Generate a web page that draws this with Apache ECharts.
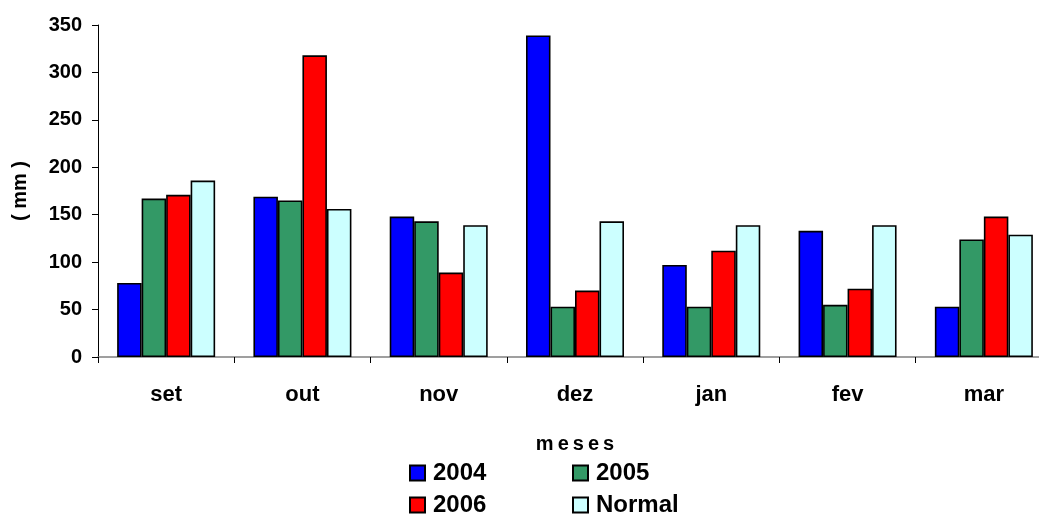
<!DOCTYPE html>
<html>
<head>
<meta charset="utf-8">
<script src="https://cdn.jsdelivr.net/npm/echarts@6/dist/echarts.min.js"></script>
<style>html,body{margin:0;padding:0;background:#fff}#c{width:1039px;height:514px}</style>
</head>
<body>
<div id="c"></div>
<script>
const categories = ['set', 'out', 'nov', 'dez', 'jan', 'fev', 'mar'];
const s2004 = [78, 169, 148, 339, 97, 133, 53];
const s2005 = [167, 165, 143, 53, 53, 55, 124];
const s2006 = [171, 318, 89, 70, 112, 72, 148];
const sNormal = [186, 156, 139, 143, 139, 139, 129];
const yTicks = { min: 0, max: 350, interval: 50 };

const chart = echarts.init(document.getElementById('c'));
const font = 'Arial, "Liberation Sans", sans-serif';
function bar(name, data, color) {
  return {
    name: name, type: 'bar', data: data,
    barWidth: 24.5, barGap: '0%',
    itemStyle: { color: color, borderColor: '#000', borderWidth: 1.6 },
    emphasis: { disabled: true }
  };
}
const legendText = { fontFamily: font, fontWeight: 'bold', fontSize: 24, color: '#000', padding: [0, 0, 0, 3] };
function leg(name, left, top) {
  return { data: [name], left: left, top: top, orient: 'horizontal', icon: 'rect',
    itemWidth: 15, itemHeight: 15, itemGap: 0, textStyle: legendText, selectedMode: false, padding: 0 };
}
chart.setOption({
  animation: false,
  backgroundColor: '#fff',
  grid: { left: 98, width: 954, top: 25, bottom: 157, containLabel: false, outerBoundsMode: 'none' },
  legend: [
    leg('2004', 409, 461),
    leg('2005', 572, 461),
    leg('2006', 409, 493),
    leg('Normal', 572, 493)
  ],
  xAxis: {
    type: 'category', data: categories,
    name: 'm\u2009e\u2009s\u2009e\u2009s', nameLocation: 'middle', nameGap: 77,
    nameTextStyle: { fontFamily: font, fontWeight: 'bold', fontSize: 20, color: '#000' },
    axisLine: { lineStyle: { color: '#808080', width: 1.5 } },
    axisTick: { show: true, alignWithLabel: false, length: 6, lineStyle: { color: '#000' } },
    axisLabel: { fontFamily: font, fontWeight: 'bold', fontSize: 22, color: '#000', margin: 27 },
    splitLine: { show: false }
  },
  yAxis: {
    type: 'value', min: yTicks.min, max: yTicks.max, interval: yTicks.interval,
    name: '( mm )', nameLocation: 'middle', nameGap: 68, nameRotate: 90,
    nameTextStyle: { fontFamily: font, fontWeight: 'bold', fontSize: 20, color: '#000' },
    axisLine: { show: true, lineStyle: { color: '#000', width: 1 } },
    axisTick: { show: true, length: 6, lineStyle: { color: '#000' } },
    axisLabel: { fontFamily: font, fontWeight: 'bold', fontSize: 20, color: '#000', margin: 16 },
    splitLine: { show: false }
  },
  series: [
    bar('2004', s2004, '#0000FF'),
    bar('2005', s2005, '#339966'),
    bar('2006', s2006, '#FF0000'),
    bar('Normal', sNormal, '#CCFFFF')
  ]
});
</script>
</body>
</html>
